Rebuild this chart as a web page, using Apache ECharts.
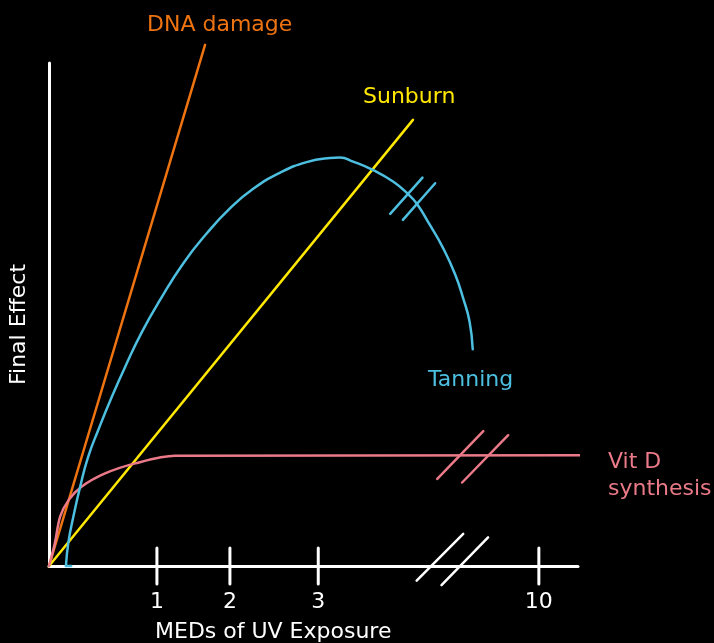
<!DOCTYPE html>
<html>
<head>
<meta charset="utf-8">
<script src="https://cdn.jsdelivr.net/npm/echarts@6/dist/echarts.min.js"></script>
<style>
  html, body { margin: 0; padding: 0; background: #000; }
  #chart { width: 714px; height: 643px; }
</style>
</head>
<body>
<div id="chart"></div>
<script>
// axis units: x and y both 0..100 across the drawn axes
var dnaX = [0, 29.5];
var dnaY = [0, 103.6];

var sunX = [0, 68.8];
var sunY = [0, 88.7];

var tanX = [3.2, 3.65, 4.6, 5.9, 7.4, 9.3, 11.9, 14.7, 17.6, 21.0, 25.4, 29.8, 34.2, 38.6, 43.7, 48.7,
            53.1, 55.0, 57.5, 61.3, 65.1, 67.9, 69.6, 72.0, 74.5, 76.8, 78.3, 79.5, 80.1];
var tanY = [0, 4.6, 9.8, 15.8, 21.7, 27.0, 33.7, 40.3, 46.6, 52.9, 60.2, 66.1, 71.1, 75.0, 78.2, 80.3,
            81.1, 81.2, 80.4, 78.7, 76.4, 73.9, 71.9, 67.8, 63.2, 57.9, 53.2, 48.6, 43.1];
var tanFootX = [3.2, 4.2];

var vitX = [0, 1.1, 2.1, 3.7, 6.2, 10.6, 16.3, 23.8, 103.6];
var vitY = [0, 4.5, 9.8, 13.1, 15.8, 18.4, 20.4, 21.9, 22.0];

// MED ticks on the x axis
var tickX = [20.4, 34.2, 50.9, 92.6];
var tickLabels = ['1', '2', '3', '10'];
var tickHalf = 3.6;

// "//" break marks
var axisBreak = [[[69.5, -2.9], [78.3, 6.4]], [[74.2, -3.8], [83.0, 5.7]]];
var vitBreak = [[[73.4, 17.3], [82.1, 26.8]], [[78.1, 16.6], [86.8, 26.0]]];
var tanBreak = [[[64.5, 70.0], [70.6, 77.2]], [[66.9, 68.8], [73.0, 76.1]]];

var FONT = 'DejaVu Sans';
var C_DNA = '#ee7311';
var C_SUN = '#ffe800';
var C_TAN = '#4dbfe0';
var C_VIT = '#eb7a89';

function zip(xs, ys) {
    var out = [];
    for (var i = 0; i < xs.length; i++) out.push([xs[i], ys[i]]);
    return out;
}

function lineSeries(data, color, width, smooth) {
    return {
        type: 'line',
        data: data,
        smooth: smooth || false,
        showSymbol: false,
        clip: false,
        silent: true,
        lineStyle: { color: color, width: width, join: 'round', cap: 'round' },
        z: 3
    };
}

var series = [];
series.push(lineSeries(zip(dnaX, dnaY), C_DNA, 2.5));
series.push(lineSeries(zip(sunX, sunY), C_SUN, 2.5));
series.push(lineSeries(zip(vitX, vitY), C_VIT, 2.5, 0.3));
series.push(lineSeries(zip(tanX, tanY), C_TAN, 2.5, 0.5));
series.push(lineSeries([[tanFootX[0], 0], [tanFootX[1], 0]], C_TAN, 2.5));

tickX.forEach(function (x) {
    series.push(lineSeries([[x, -tickHalf], [x, tickHalf]], '#fff', 3));
});
axisBreak.forEach(function (s) { series.push(lineSeries(s, '#fff', 2.5)); });
vitBreak.forEach(function (s) { series.push(lineSeries(s, C_VIT, 2.5)); });
tanBreak.forEach(function (s) { series.push(lineSeries(s, C_TAN, 2.5)); });

function label(text, x, y, color) {
    return {
        type: 'text',
        left: x,
        top: y,
        style: {
            text: text,
            fill: color,
            font: '22px "' + FONT + '"'
        }
    };
}

var myChart = echarts.init(document.getElementById('chart'));

var option = {
    backgroundColor: '#000',
    animation: false,
    grid: { left: 49, top: 63, width: 529, height: 503 },
    xAxis: {
        type: 'value',
        min: 0,
        max: 100,
        splitLine: { show: false },
        axisLine: { onZero: false, lineStyle: { color: '#fff', width: 3 } },
        axisTick: { show: false },
        axisLabel: {
            customValues: tickX,
            margin: 25,
            color: '#fff',
            fontSize: 22,
            fontFamily: FONT,
            formatter: function (v) {
                var i = tickX.indexOf(v);
                return i >= 0 ? tickLabels[i] : '';
            }
        }
    },
    yAxis: {
        type: 'value',
        min: 0,
        max: 100,
        splitLine: { show: false },
        axisLine: { show: true, onZero: false, lineStyle: { color: '#fff', width: 3 } },
        axisTick: { show: false },
        axisLabel: { show: false }
    },
    graphic: [
        label('DNA damage', 147, 14, C_DNA),
        label('Sunburn', 363, 86, C_SUN),
        label('Tanning', 428, 369, C_TAN),
        label('Vit D', 608, 451, C_VIT),
        label('synthesis', 608, 478, C_VIT),
        label('MEDs of UV Exposure', 155, 621, '#fff'),
        {
            type: 'text',
            x: 8,
            y: 385,
            rotation: Math.PI / 2,
            style: { text: 'Final Effect', fill: '#fff', font: '22px "' + FONT + '"' }
        }
    ],
    series: series
};

myChart.setOption(option);
</script>
</body>
</html>
